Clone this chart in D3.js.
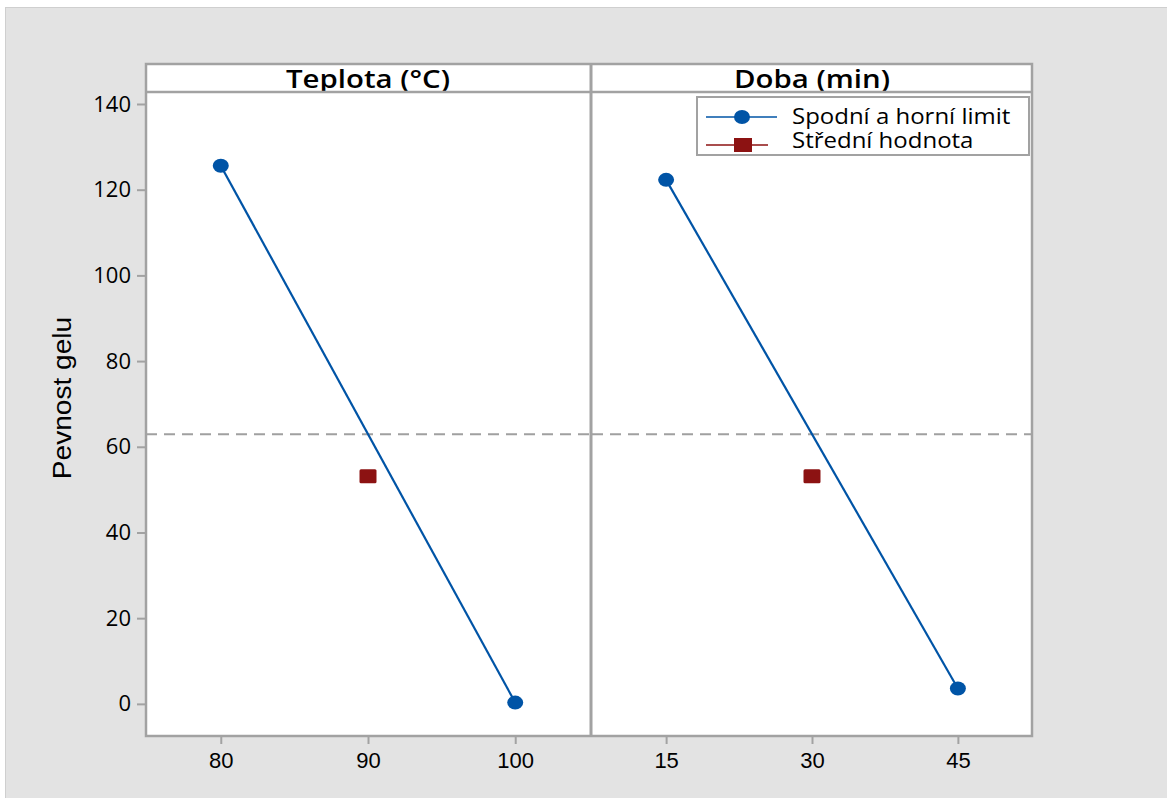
<!DOCTYPE html>
<html>
<head>
<meta charset="utf-8">
<script src="https://cdn.jsdelivr.net/npm/d3@7"></script>
<style>
  html, body { margin: 0; padding: 0; background: #fff; }
  svg { display: block; font-family: "Open Sans", "Noto Sans", sans-serif; }
</style>
</head>
<body>
<svg id="chart" width="1167" height="798"></svg>
<script>
// factor panels
const factors = ['Teplota (°C)', 'Doba (min)'];
const factorLevels = [[80, 90, 100], [15, 30, 45]];
// means at low / high limit for each factor
const limitMeans = [[125.6, 0.3], [122.3, 3.6]];
// mean at center point
const centerMeans = [53.1, 53.1];
const overallMean = 62.9;
const yTicks = [0, 20, 40, 60, 80, 100, 120, 140];
const legendLabels = ['Spodní a horní limit', 'Střední hodnota'];

const BLUE = '#0054a6';
const RED = '#8c1212';
const FRAME = '#a2a2a2';

const svg = d3.select('#chart');

// widen text a bit, the source render is horizontally stretched
function stretch(sel, k) {
  sel.each(function () {
    const w = this.getComputedTextLength();
    d3.select(this).attr('textLength', w * k).attr('lengthAdjust', 'spacingAndGlyphs');
  });
}

// grey page background
svg.append('rect')
  .attr('x', 5.5).attr('y', 7.5)
  .attr('width', 1170).attr('height', 800)
  .attr('fill', '#e3e3e3')
  .attr('stroke', '#cfcfcf');

const plotTop = 92, plotBottom = 736, stripTop = 64;
const panelX = [[146, 590], [592, 1032]];

const y = d3.scaleLinear().domain([-7.5, 142.8]).range([plotBottom, plotTop]);

// y axis
const yAxis = svg.append('g')
  .attr('transform', `translate(${panelX[0][0]},0)`)
  .call(d3.axisLeft(y).tickValues(yTicks).tickSize(9).tickPadding(6));
yAxis.select('.domain').remove();
yAxis.selectAll('line').attr('stroke', FRAME).attr('stroke-width', 2);
yAxis.selectAll('text')
  .attr('font-size', 22).attr('fill', '#000')
  .attr('font-family', '"Open Sans", sans-serif');

const yTitle = svg.append('text')
  .attr('transform', 'translate(71,398) rotate(-90)')
  .attr('text-anchor', 'middle')
  .attr('font-size', 26)
  .attr('font-family', '"Liberation Sans", Arial, sans-serif')
  .attr('fill', '#000')
  .text('Pevnost gelu');
stretch(yTitle, 1.08);

factors.forEach((name, i) => {
  const [x0, x1] = panelX[i];
  const lv = factorLevels[i];
  const pad = (lv[2] - lv[0]) * 0.254;
  const x = d3.scaleLinear().domain([lv[0] - pad, lv[2] + pad]).range([x0, x1]);

  const g = svg.append('g');

  // strip
  g.append('rect')
    .attr('x', x0).attr('y', stripTop)
    .attr('width', x1 - x0).attr('height', plotTop - stripTop)
    .attr('fill', '#fff');
  const title = g.append('text')
    .attr('x', (x0 + x1) / 2).attr('y', 88)
    .attr('text-anchor', 'middle')
    .attr('font-size', 26).attr('font-weight', 600)
    .attr('fill', '#000')
    .text(name);
  stretch(title, 1.13);

  // plot area
  g.append('rect')
    .attr('x', x0).attr('y', plotTop)
    .attr('width', x1 - x0).attr('height', plotBottom - plotTop)
    .attr('fill', '#fff');

  // reference line at overall mean
  g.append('line')
    .attr('x1', x0).attr('x2', x1)
    .attr('y1', y(overallMean)).attr('y2', y(overallMean))
    .attr('stroke', '#a0a0a0').attr('stroke-width', 2)
    .attr('stroke-dasharray', '11,7');

  // x axis
  const xAxis = g.append('g')
    .attr('transform', `translate(0,${plotBottom})`)
    .call(d3.axisBottom(x).tickValues(lv).tickSize(8).tickPadding(8));
  xAxis.select('.domain').remove();
  xAxis.selectAll('line').attr('stroke', FRAME).attr('stroke-width', 2);
  xAxis.selectAll('text')
    .attr('font-size', 22).attr('fill', '#000');

  // line between limits
  const pts = [[lv[0], limitMeans[i][0]], [lv[2], limitMeans[i][1]]];
  g.append('path')
    .attr('d', d3.line().x(d => x(d[0])).y(d => y(d[1]))(pts))
    .attr('stroke', BLUE).attr('stroke-width', 2.2).attr('fill', 'none');
  g.selectAll('ellipse.lim')
    .data(pts)
    .join('ellipse')
    .attr('class', 'lim')
    .attr('cx', d => x(d[0])).attr('cy', d => y(d[1]))
    .attr('rx', 8).attr('ry', 7)
    .attr('fill', BLUE);

  // center point
  g.append('rect')
    .attr('x', x(lv[1]) - 8.5).attr('y', y(centerMeans[i]) - 7)
    .attr('width', 17).attr('height', 14)
    .attr('rx', 1.5)
    .attr('fill', RED);
});

// frames
const frame = svg.append('g')
  .attr('fill', 'none').attr('stroke', FRAME).attr('stroke-width', 2.5);
frame.append('rect')
  .attr('x', panelX[0][0]).attr('y', stripTop)
  .attr('width', panelX[1][1] - panelX[0][0]).attr('height', plotBottom - stripTop);
frame.append('line')
  .attr('x1', panelX[0][0]).attr('x2', panelX[1][1])
  .attr('y1', plotTop).attr('y2', plotTop);
frame.append('line')
  .attr('x1', 591).attr('x2', 591)
  .attr('y1', stripTop).attr('y2', plotBottom)
  .attr('stroke-width', 3);

// legend
const leg = svg.append('g').attr('transform', 'translate(697,97)');
leg.append('rect')
  .attr('width', 332).attr('height', 58)
  .attr('fill', '#fff').attr('stroke', FRAME).attr('stroke-width', 2);
legendLabels.forEach((lab, i) => {
  const cy = i === 0 ? 20 : 48;
  const col = i === 0 ? BLUE : RED;
  leg.append('line')
    .attr('x1', 9).attr('x2', i === 0 ? 80 : 71)
    .attr('y1', cy).attr('y2', cy)
    .attr('stroke', col).attr('stroke-width', 1.5);
  if (i === 0) {
    leg.append('ellipse')
      .attr('cx', 45).attr('cy', cy).attr('rx', 8).attr('ry', 7).attr('fill', col);
  } else {
    leg.append('rect')
      .attr('x', 37).attr('y', cy - 7).attr('width', 18).attr('height', 14)
      .attr('fill', col);
  }
  const t = leg.append('text')
    .attr('x', 95).attr('y', i === 0 ? 27 : 51)
    .attr('font-size', 22).attr('fill', '#000')
    .text(lab);
  stretch(t, 1.09);
});
</script>
</body>
</html>
